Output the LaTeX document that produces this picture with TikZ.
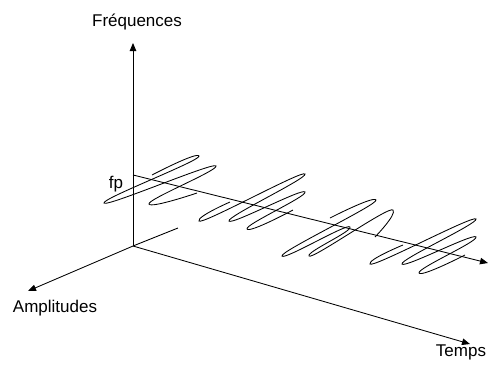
\documentclass[tikz,border=0pt]{standalone}
\usepackage{fontspec}
\setmainfont{Liberation Sans}
\usetikzlibrary{arrows.meta,calc}
% #1 tip, #2 previous tip, #3 next tip, #4 rounding
\newcommand\wtip[4]{%
  \coordinate (#1q1) at ($(#1)!3pt!(#2)$);
  \coordinate (#1q2) at ($(#1)!3pt!(#3)$);
  \coordinate (#1d) at ($(#1)+(#1q2)-(#1q1)$);
  \coordinate (#1o) at ($(#1)!#4!(#1d)$);
  \coordinate (#1i) at ($(#1)!-#4!(#1d)$);
}
\begin{document}
\begin{tikzpicture}[x=1pt,y=-1pt,
  axis/.style={line width=0.85pt,-{Triangle[length=8pt,width=6.5pt]}},
  plain/.style={line width=0.85pt},
  wave/.style={line width=0.85pt},
  lbl/.style={font=\fontsize{17}{20}\selectfont,inner sep=0pt}]
\useasboundingbox (0,0) rectangle (491,370);
\coordinate (O) at (133,246);
\coordinate (F) at (133,43);
\coordinate (A) at (28,291);
\coordinate (T) at (470,344);
\coordinate (B) at (178,228);
\coordinate (P0) at (133,175);
\coordinate (P1) at (488,263);
\draw[axis] (O) -- (F);
\draw[axis] (O) -- (A);
\draw[axis] (O) -- (T);
\draw[plain] (O) -- (B);
\draw[axis] (P0) -- (P1);
\node[lbl] (lf) at (137,22) {Fréquences};
\node[lbl] (lfp) at (116,184) {fp};
\node[lbl] (la) at (55,308) {Amplitudes};
\node[lbl] (lt) at (461,352) {Temps};
% wave group 1
\coordinate (a1) at (152,175); \coordinate (a2) at (199,156);
\coordinate (a3) at (104,203); \coordinate (a4) at (216,166);
\coordinate (a5) at (149,204); \coordinate (a6) at (197,193);
\wtip{a2}{a1}{a3}{5pt}\wtip{a3}{a2}{a4}{5pt}\wtip{a4}{a3}{a5}{5pt}\wtip{a5}{a4}{a6}{5pt}
\draw[wave] (a1) .. controls (a1) and (a2i) .. (a2) .. controls (a2o) and (a3i) .. (a3)
  .. controls (a3o) and (a4i) .. (a4) .. controls (a4o) and (a5i) .. (a5)
  .. controls (a5o) and (a6) .. (a6);
% wave group 2
\coordinate (b1) at (230,202); \coordinate (b2) at (199,221);
\coordinate (b3) at (305,174); \coordinate (b4) at (229,221);
\coordinate (b5) at (305,192); \coordinate (b6) at (247,229);
\coordinate (b7) at (293,210);
\wtip{b2}{b1}{b3}{5pt}\wtip{b3}{b2}{b4}{5pt}\wtip{b4}{b3}{b5}{5pt}\wtip{b5}{b4}{b6}{5pt}\wtip{b6}{b5}{b7}{5pt}
\draw[wave] (b1) .. controls (b1) and (b2i) .. (b2) .. controls (b2o) and (b3i) .. (b3)
  .. controls (b3o) and (b4i) .. (b4) .. controls (b4o) and (b5i) .. (b5)
  .. controls (b5o) and (b6i) .. (b6) .. controls (b6o) and (b7) .. (b7);
% wave group 3
\coordinate (c1) at (330,218); \coordinate (c2) at (376,200);
\coordinate (c3) at (282,256); \coordinate (c4) at (350,227);
\coordinate (c5) at (309,256); \coordinate (c6) at (393,210);
\coordinate (c7) at (375,237);
\wtip{c2}{c1}{c3}{5pt}\wtip{c3}{c2}{c4}{5pt}\wtip{c4}{c3}{c5}{5pt}\wtip{c5}{c4}{c6}{5pt}\wtip{c6}{c5}{c7}{6pt}
\draw[wave] (c1) .. controls (c1) and (c2i) .. (c2) .. controls (c2o) and (c3i) .. (c3)
  .. controls (c3o) and (c4i) .. (c4) .. controls (c4o) and (c5i) .. (c5)
  .. controls (c5o) and (c6i) .. (c6) .. controls (c6o) and (c7) .. (c7);
% wave group 4
\coordinate (d1) at (403,245); \coordinate (d2) at (370,264);
\coordinate (d3) at (476,219); \coordinate (d4) at (402,264);
\coordinate (d5) at (476,237); \coordinate (d6) at (419,273);
\coordinate (d7) at (465,255);
\wtip{d2}{d1}{d3}{5pt}\wtip{d3}{d2}{d4}{5pt}\wtip{d4}{d3}{d5}{5pt}\wtip{d5}{d4}{d6}{5pt}\wtip{d6}{d5}{d7}{5pt}
\draw[wave] (d1) .. controls (d1) and (d2i) .. (d2) .. controls (d2o) and (d3i) .. (d3)
  .. controls (d3o) and (d4i) .. (d4) .. controls (d4o) and (d5i) .. (d5)
  .. controls (d5o) and (d6i) .. (d6) .. controls (d6o) and (d7) .. (d7);
\end{tikzpicture}
\end{document}
